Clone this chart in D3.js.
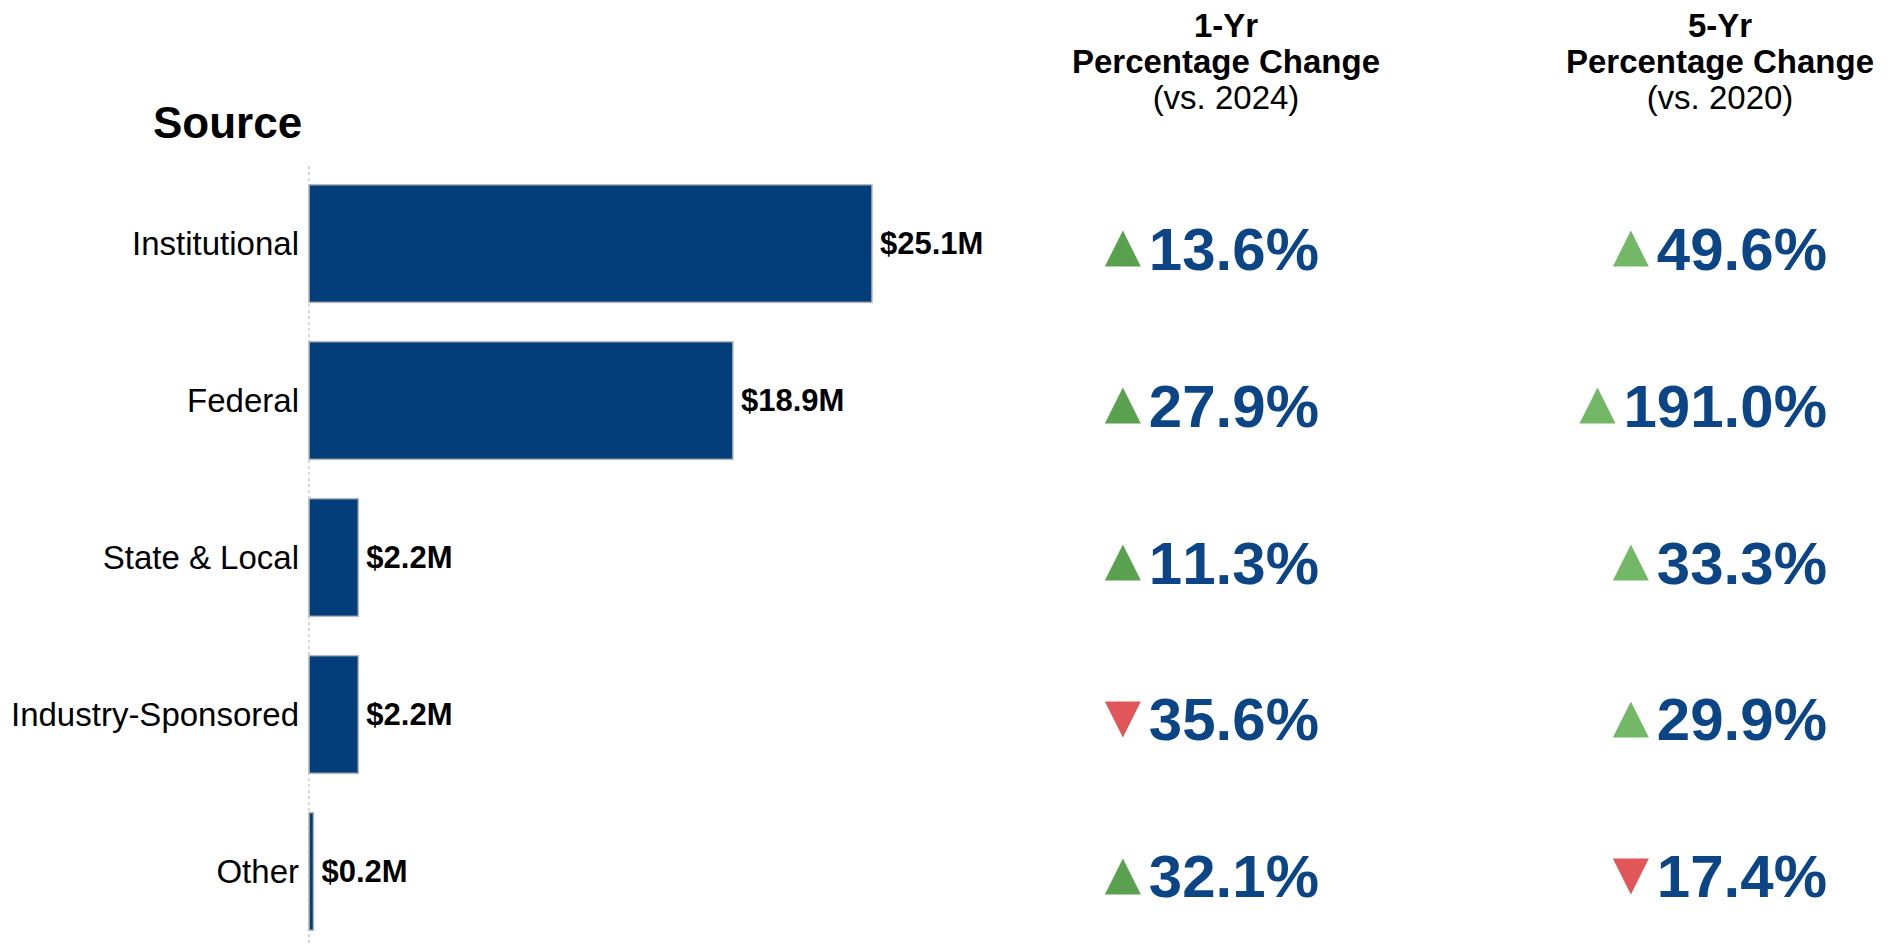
<!DOCTYPE html>
<html>
<head>
<meta charset="utf-8">
<script src="https://cdn.jsdelivr.net/npm/d3@7"></script>
<style>
  html, body { margin: 0; padding: 0; background: #fff; }
  text { font-family: "Liberation Sans", Arial, Helvetica, sans-serif; font-kerning: none; }
</style>
</head>
<body>
<div id="vis"></div>
<script>
// funding by source, $M
const categories = ["Institutional", "Federal", "State & Local", "Industry-Sponsored", "Other"];
const amounts = [25.1, 18.9, 2.2, 2.2, 0.2];
// percentage change, sign gives the arrow direction
const change1yr = [13.6, 27.9, 11.3, -35.6, 32.1];
const change5yr = [49.6, 191.0, 33.3, 29.9, -17.4];
const columns = [
    { title: ["1-Yr", "Percentage Change", "(vs. 2024)"], values: change1yr, up: "#59a14f" },
    { title: ["5-Yr", "Percentage Change", "(vs. 2020)"], values: change5yr, up: "#72b866" }
];

var width = 1898, height = 944;
var svg = d3.select("#vis").append("svg")
    .attr("width", width)
    .attr("height", height);

var x = d3.scaleLinear().domain([0, 25.1]).range([309, 872]);
var y = d3.scaleBand()
    .domain(categories)
    .range([169, 946])
    .paddingInner(0.25)
    .paddingOuter(0.1);

// dotted zero line
svg.append("line")
    .attr("x1", x(0)).attr("x2", x(0))
    .attr("y1", 166).attr("y2", height)
    .attr("stroke", "#b0b0b0")
    .attr("stroke-dasharray", "3,3")
    .attr("stroke-width", 1);

svg.append("text")
    .attr("x", 153)
    .attr("y", 138)
    .style("font-size", "44px")
    .style("font-weight", "bold")
    .attr("fill", "#000")
    .text("Source");

svg.selectAll(".bar")
    .data(categories)
    .enter().append("rect")
    .attr("class", "bar")
    .attr("x", x(0))
    .attr("y", d => y(d))
    .attr("width", (d, i) => x(amounts[i]) - x(0))
    .attr("height", y.bandwidth())
    .attr("fill", "#033e7b")
    .attr("stroke", "#b8b8b8")
    .attr("stroke-width", 1.5);

svg.selectAll(".cat")
    .data(categories)
    .enter().append("text")
    .attr("class", "cat")
    .attr("x", x(0) - 10)
    .attr("y", d => y(d) + y.bandwidth() / 2)
    .attr("dy", "0.35em")
    .attr("text-anchor", "end")
    .style("font-size", "33px")
    .attr("fill", "#000")
    .text(d => d);

svg.selectAll(".val")
    .data(categories)
    .enter().append("text")
    .attr("class", "val")
    .attr("x", (d, i) => x(amounts[i]) + 8)
    .attr("y", d => y(d) + y.bandwidth() / 2)
    .attr("dy", "0.35em")
    .style("font-size", "31px")
    .style("font-weight", "bold")
    .attr("fill", "#000")
    .text((d, i) => "$" + amounts[i].toFixed(1) + "M");

// percentage change columns
var colCenter = [1226, 1720];
var colRight = [1319, 1827];
var tri = 36;

columns.forEach((col, c) => {
    col.title.forEach((t, k) => {
        svg.append("text")
            .attr("x", colCenter[c])
            .attr("y", 37 + k * 36)
            .attr("text-anchor", "middle")
            .style("font-size", "33px")
            .style("font-weight", k < 2 ? "bold" : "normal")
            .attr("fill", "#000")
            .text(t);
    });

    categories.forEach((cat, i) => {
        var v = col.values[i];
        var cy = y(cat) + y.bandwidth() / 2 + 5;
        var label = svg.append("text")
            .attr("x", colRight[c])
            .attr("y", cy + 21)
            .attr("text-anchor", "end")
            .style("font-size", "60px")
            .style("font-weight", "bold")
            .attr("fill", "#0b4585")
            .text(Math.abs(v).toFixed(1) + "%");
        var w = label.node().getComputedTextLength();
        var tx = colRight[c] - w - 8 - tri;
        var pts = v >= 0
            ? [[tx, cy + tri / 2], [tx + tri / 2, cy - tri / 2], [tx + tri, cy + tri / 2]]
            : [[tx, cy - tri / 2], [tx + tri, cy - tri / 2], [tx + tri / 2, cy + tri / 2]];
        svg.append("path")
            .attr("d", d3.line()(pts) + "Z")
            .attr("fill", v >= 0 ? col.up : "#e15759");
    });
});
</script>
</body>
</html>
